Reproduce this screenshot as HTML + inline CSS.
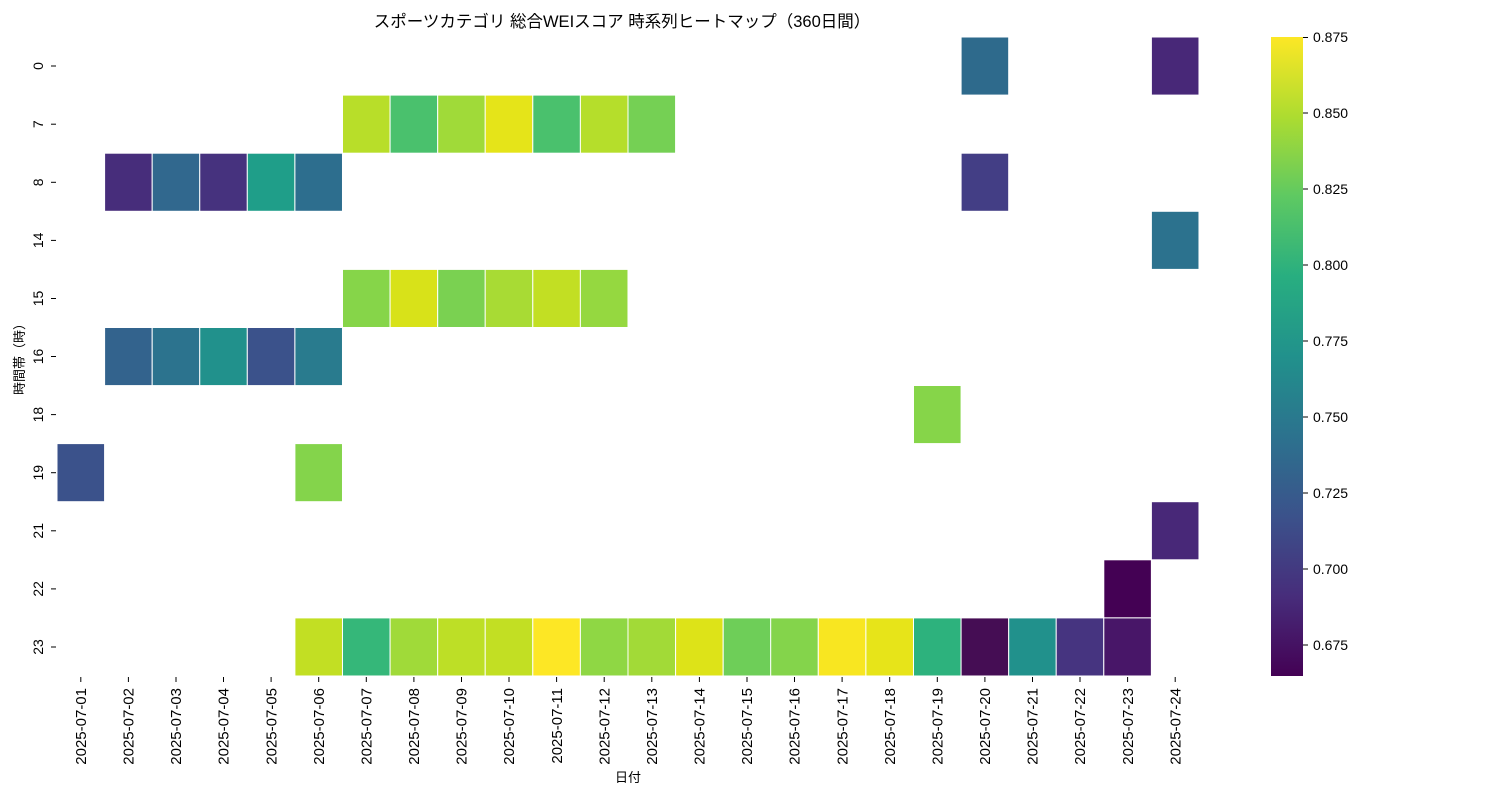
<!DOCTYPE html>
<html><head><meta charset="utf-8"><style>
body{margin:0;background:#fff}
text{font-family:"Liberation Sans","Noto Sans CJK JP",sans-serif;font-size:13px;fill:#000}
.xt text{font-size:15px}
.yt text{font-size:14px}
</style></head><body>
<svg width="1500" height="800" xmlns="http://www.w3.org/2000/svg">
<defs><linearGradient id="vir" x1="0" y1="1" x2="0" y2="0">
<stop offset="0" stop-color="#440154"/><stop offset="0.125" stop-color="#472d7b"/><stop offset="0.25" stop-color="#3b528b"/><stop offset="0.375" stop-color="#2c728e"/><stop offset="0.5" stop-color="#21918c"/><stop offset="0.625" stop-color="#28ae80"/><stop offset="0.75" stop-color="#5ec962"/><stop offset="0.875" stop-color="#addc30"/><stop offset="1" stop-color="#fde725"/></linearGradient></defs>
<text x="622" y="27" text-anchor="middle" style="font-size:16.5px">スポーツカテゴリ 総合WEIスコア 時系列ヒートマップ（360日間）</text>
<g stroke="#fff" stroke-width="1">
<rect x="961.1" y="37" width="47.58" height="58.09" fill="#2e6a8c"/>
<rect x="1151.4" y="37" width="47.58" height="58.09" fill="#482878"/>
<rect x="342.5" y="95.1" width="47.58" height="58.09" fill="#b8de29"/>
<rect x="390.1" y="95.1" width="47.58" height="58.09" fill="#4ac16d"/>
<rect x="437.7" y="95.1" width="47.58" height="58.09" fill="#a0da39"/>
<rect x="485.2" y="95.1" width="47.58" height="58.09" fill="#e5e419"/>
<rect x="532.8" y="95.1" width="47.58" height="58.09" fill="#4ac16d"/>
<rect x="580.4" y="95.1" width="47.58" height="58.09" fill="#b5de2b"/>
<rect x="628" y="95.1" width="47.58" height="58.09" fill="#75d054"/>
<rect x="104.6" y="153.2" width="47.58" height="58.09" fill="#472d7b"/>
<rect x="152.2" y="153.2" width="47.58" height="58.09" fill="#31688e"/>
<rect x="199.75" y="153.2" width="47.58" height="58.09" fill="#46327e"/>
<rect x="247.3" y="153.2" width="47.58" height="58.09" fill="#1f9e89"/>
<rect x="294.9" y="153.2" width="47.58" height="58.09" fill="#2d6e8e"/>
<rect x="961.1" y="153.2" width="47.58" height="58.09" fill="#433e85"/>
<rect x="1151.4" y="211.3" width="47.58" height="58.09" fill="#2c728e"/>
<rect x="342.5" y="269.4" width="47.58" height="58.09" fill="#86d549"/>
<rect x="390.1" y="269.4" width="47.58" height="58.09" fill="#d8e219"/>
<rect x="437.7" y="269.4" width="47.58" height="58.09" fill="#7ad151"/>
<rect x="485.2" y="269.4" width="47.58" height="58.09" fill="#a8db34"/>
<rect x="532.8" y="269.4" width="47.58" height="58.09" fill="#c2df23"/>
<rect x="580.4" y="269.4" width="47.58" height="58.09" fill="#95d840"/>
<rect x="104.6" y="327.5" width="47.58" height="58.09" fill="#33638d"/>
<rect x="152.2" y="327.5" width="47.58" height="58.09" fill="#2c738e"/>
<rect x="199.75" y="327.5" width="47.58" height="58.09" fill="#21918c"/>
<rect x="247.3" y="327.5" width="47.58" height="58.09" fill="#3b528b"/>
<rect x="294.9" y="327.5" width="47.58" height="58.09" fill="#297b8e"/>
<rect x="913.5" y="385.5" width="47.58" height="58.09" fill="#86d549"/>
<rect x="57" y="443.6" width="47.58" height="58.09" fill="#3b528b"/>
<rect x="294.9" y="443.6" width="47.58" height="58.09" fill="#84d44b"/>
<rect x="1151.4" y="501.7" width="47.58" height="58.09" fill="#482878"/>
<rect x="1103.8" y="559.8" width="47.58" height="58.09" fill="#440154"/>
<rect x="294.9" y="617.9" width="47.58" height="58.09" fill="#c2df23"/>
<rect x="342.5" y="617.9" width="47.58" height="58.09" fill="#35b779"/>
<rect x="390.1" y="617.9" width="47.58" height="58.09" fill="#a0da39"/>
<rect x="437.7" y="617.9" width="47.58" height="58.09" fill="#bddf26"/>
<rect x="485.2" y="617.9" width="47.58" height="58.09" fill="#c2df23"/>
<rect x="532.8" y="617.9" width="47.58" height="58.09" fill="#fde725"/>
<rect x="580.4" y="617.9" width="47.58" height="58.09" fill="#8fd744"/>
<rect x="628" y="617.9" width="47.58" height="58.09" fill="#a2da37"/>
<rect x="675.6" y="617.9" width="47.58" height="58.09" fill="#dde318"/>
<rect x="723.2" y="617.9" width="47.58" height="58.09" fill="#6ece58"/>
<rect x="770.7" y="617.9" width="47.58" height="58.09" fill="#84d44b"/>
<rect x="818.3" y="617.9" width="47.58" height="58.09" fill="#f8e621"/>
<rect x="865.9" y="617.9" width="47.58" height="58.09" fill="#e7e419"/>
<rect x="913.5" y="617.9" width="47.58" height="58.09" fill="#2db27d"/>
<rect x="961.1" y="617.9" width="47.58" height="58.09" fill="#450d54"/>
<rect x="1008.7" y="617.9" width="47.58" height="58.09" fill="#21918c"/>
<rect x="1056.2" y="617.9" width="47.58" height="58.09" fill="#463480"/>
<rect x="1103.8" y="617.9" width="47.58" height="58.09" fill="#481668"/>
</g>
<g stroke="#000" stroke-width="1">
<line x1="51" x2="56" y1="66" y2="66"/><line x1="51" x2="56" y1="124.2" y2="124.2"/><line x1="51" x2="56" y1="182.3" y2="182.3"/><line x1="51" x2="56" y1="240.4" y2="240.4"/><line x1="51" x2="56" y1="298.5" y2="298.5"/><line x1="51" x2="56" y1="356.5" y2="356.5"/><line x1="51" x2="56" y1="414.6" y2="414.6"/><line x1="51" x2="56" y1="472.7" y2="472.7"/><line x1="51" x2="56" y1="530.8" y2="530.8"/><line x1="51" x2="56" y1="588.9" y2="588.9"/><line x1="51" x2="56" y1="647" y2="647"/>
</g>
<g text-anchor="middle" class="yt">
<text transform="translate(43,66) rotate(-90)">0</text>
<text transform="translate(43,124.2) rotate(-90)">7</text>
<text transform="translate(43,182.3) rotate(-90)">8</text>
<text transform="translate(43,240.4) rotate(-90)">14</text>
<text transform="translate(43,298.5) rotate(-90)">15</text>
<text transform="translate(43,356.5) rotate(-90)">16</text>
<text transform="translate(43,414.6) rotate(-90)">18</text>
<text transform="translate(43,472.7) rotate(-90)">19</text>
<text transform="translate(43,530.8) rotate(-90)">21</text>
<text transform="translate(43,588.9) rotate(-90)">22</text>
<text transform="translate(43,647) rotate(-90)">23</text>
</g>
<g text-anchor="middle">
<text transform="translate(24,356) rotate(-90)">時間帯（時）</text>
<text x="628" y="782">日付</text>
</g>
<g stroke="#000" stroke-width="1">
<line y1="677" y2="682" x1="80.8" x2="80.8"/><line y1="677" y2="682" x1="128.4" x2="128.4"/><line y1="677" y2="682" x1="176" x2="176"/><line y1="677" y2="682" x1="223.5" x2="223.5"/><line y1="677" y2="682" x1="271.1" x2="271.1"/><line y1="677" y2="682" x1="318.7" x2="318.7"/><line y1="677" y2="682" x1="366.3" x2="366.3"/><line y1="677" y2="682" x1="413.9" x2="413.9"/><line y1="677" y2="682" x1="461.5" x2="461.5"/><line y1="677" y2="682" x1="509" x2="509"/><line y1="677" y2="682" x1="556.6" x2="556.6"/><line y1="677" y2="682" x1="604.2" x2="604.2"/><line y1="677" y2="682" x1="651.8" x2="651.8"/><line y1="677" y2="682" x1="699.4" x2="699.4"/><line y1="677" y2="682" x1="747" x2="747"/><line y1="677" y2="682" x1="794.5" x2="794.5"/><line y1="677" y2="682" x1="842.1" x2="842.1"/><line y1="677" y2="682" x1="889.7" x2="889.7"/><line y1="677" y2="682" x1="937.3" x2="937.3"/><line y1="677" y2="682" x1="984.9" x2="984.9"/><line y1="677" y2="682" x1="1032.5" x2="1032.5"/><line y1="677" y2="682" x1="1080" x2="1080"/><line y1="677" y2="682" x1="1127.6" x2="1127.6"/><line y1="677" y2="682" x1="1175.2" x2="1175.2"/>
</g>
<g text-anchor="end" class="xt">
<text transform="translate(86,688) rotate(-90)">2025-07-01</text>
<text transform="translate(133.6,688) rotate(-90)">2025-07-02</text>
<text transform="translate(181.2,688) rotate(-90)">2025-07-03</text>
<text transform="translate(228.7,688) rotate(-90)">2025-07-04</text>
<text transform="translate(276.3,688) rotate(-90)">2025-07-05</text>
<text transform="translate(323.9,688) rotate(-90)">2025-07-06</text>
<text transform="translate(371.5,688) rotate(-90)">2025-07-07</text>
<text transform="translate(419.1,688) rotate(-90)">2025-07-08</text>
<text transform="translate(466.7,688) rotate(-90)">2025-07-09</text>
<text transform="translate(514.2,688) rotate(-90)">2025-07-10</text>
<text transform="translate(561.8,688) rotate(-90)">2025-07-11</text>
<text transform="translate(609.4,688) rotate(-90)">2025-07-12</text>
<text transform="translate(657,688) rotate(-90)">2025-07-13</text>
<text transform="translate(704.6,688) rotate(-90)">2025-07-14</text>
<text transform="translate(752.2,688) rotate(-90)">2025-07-15</text>
<text transform="translate(799.7,688) rotate(-90)">2025-07-16</text>
<text transform="translate(847.3,688) rotate(-90)">2025-07-17</text>
<text transform="translate(894.9,688) rotate(-90)">2025-07-18</text>
<text transform="translate(942.5,688) rotate(-90)">2025-07-19</text>
<text transform="translate(990.1,688) rotate(-90)">2025-07-20</text>
<text transform="translate(1037.7,688) rotate(-90)">2025-07-21</text>
<text transform="translate(1085.2,688) rotate(-90)">2025-07-22</text>
<text transform="translate(1132.8,688) rotate(-90)">2025-07-23</text>
<text transform="translate(1180.4,688) rotate(-90)">2025-07-24</text>
</g>
<rect x="1271" y="37" width="32" height="639" fill="url(#vir)"/>
<g stroke="#000"><line x1="1303" x2="1308" y1="37.5" y2="37.5"/><line x1="1303" x2="1308" y1="113" y2="113"/><line x1="1303" x2="1308" y1="189" y2="189"/><line x1="1303" x2="1308" y1="265" y2="265"/><line x1="1303" x2="1308" y1="341" y2="341"/><line x1="1303" x2="1308" y1="417" y2="417"/><line x1="1303" x2="1308" y1="493" y2="493"/><line x1="1303" x2="1308" y1="569" y2="569"/><line x1="1303" x2="1308" y1="645" y2="645"/></g>
<g style="font-size:14px">
<text x="1313" y="42" style="font-size:14px">0.875</text><text x="1313" y="118" style="font-size:14px">0.850</text><text x="1313" y="194" style="font-size:14px">0.825</text><text x="1313" y="270" style="font-size:14px">0.800</text><text x="1313" y="346" style="font-size:14px">0.775</text><text x="1313" y="422" style="font-size:14px">0.750</text><text x="1313" y="498" style="font-size:14px">0.725</text><text x="1313" y="574" style="font-size:14px">0.700</text><text x="1313" y="650" style="font-size:14px">0.675</text>
</g>
</svg>
</body></html>
